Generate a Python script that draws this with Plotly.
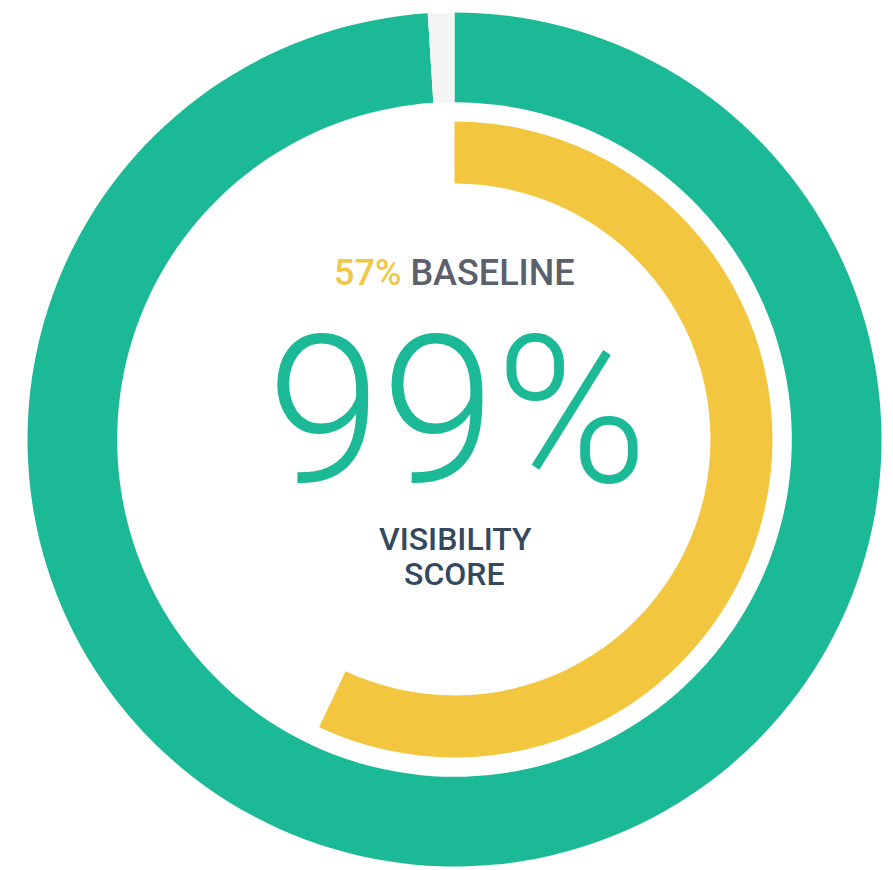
import plotly.graph_objects as go

# ---- data ----
score_labels = ["Visibility score", "Remaining"]
score_values = [99, 1]
baseline_labels = ["Baseline", "Remaining"]
baseline_values = [57, 43]

score_text = "99%"
baseline_text = "57%"
baseline_word = "BASELINE"
score_title = ["VISIBILITY", "SCORE"]

# ---- styles ----
GREEN = "#1BB996"
YELLOW = "#F2C73F"
GAP = "#F4F4F4"
DARK = "#34495E"
GREY = "#5B606C"

OFF = 8                        # page body margin
W, H = 893 - OFF, 870 - OFF    # figure size fitting the window
cx, cy = 454.5 - OFF, 439.5 - OFF   # pixel centre (from top, figure coords)
r_out, r_in = 427.0, 318.0     # outer radii of rings


def dom(r):
    ycb = H - cy
    return dict(x=[(cx - r) / W, (cx + r) / W], y=[(ycb - r) / H, (ycb + r) / H])


fig = go.Figure()
fig.add_trace(go.Pie(
    labels=score_labels, values=score_values,
    hole=0.79, sort=False, direction="clockwise", rotation=0,
    marker=dict(colors=[GREEN, GAP], line=dict(width=0)),
    textinfo="none", hoverinfo="label+value", domain=dom(r_out), showlegend=False,
))
fig.add_trace(go.Pie(
    labels=baseline_labels, values=baseline_values,
    hole=0.805, sort=False, direction="clockwise", rotation=0,
    marker=dict(colors=[YELLOW, "rgba(0,0,0,0)"], line=dict(width=0)),
    textinfo="none", hoverinfo="label+value", domain=dom(r_in), showlegend=False,
))


def px(xpix):
    return (xpix - OFF) / W


def py(ypix):
    return 1 - (ypix - OFF) / H


annotations = [
    dict(text=f"<span style='color:#F0C848'>{baseline_text}</span> "
              f"<span style='color:{GREY}'>{baseline_word}</span>",
         x=px(454), y=py(273), xref="paper", yref="paper", showarrow=False,
         xanchor="center", yanchor="middle",
         font=dict(family="Roboto", size=36, weight=500, color=GREY)),
    dict(text=score_text, x=px(457), y=py(411), xref="paper", yref="paper",
         showarrow=False, xanchor="center", yanchor="middle", height=172,
         font=dict(family="Roboto", size=206, weight=300, color=GREEN)),
    dict(text=score_title[0], x=px(455), y=py(538.5), xref="paper", yref="paper",
         showarrow=False, xanchor="center", yanchor="middle", height=33,
         font=dict(family="Roboto", size=32, weight=500, color=DARK)),
    dict(text=score_title[1], x=px(454), y=py(573), xref="paper", yref="paper",
         showarrow=False, xanchor="center", yanchor="middle", height=33,
         font=dict(family="Roboto", size=32, weight=500, color=DARK)),
]

fig.update_layout(
    width=W, height=H, margin=dict(l=0, r=0, t=0, b=0),
    paper_bgcolor="white", plot_bgcolor="white",
    annotations=annotations,
)

fig.write_html("out.html")
